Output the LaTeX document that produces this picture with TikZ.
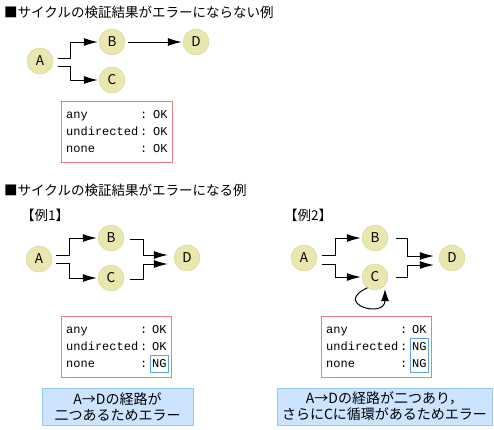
\documentclass[tikz,border=0pt]{standalone}
\usepackage{fontspec}
\setmainfont{Noto Sans CJK JP}
\newfontfamily\resfont{Liberation Mono}
\usepackage{tikz}
\usetikzlibrary{positioning,arrows.meta,fit}
\definecolor{vertexfill}{RGB}{233, 231, 173}
\definecolor{vertexline}{RGB}{212, 209, 150}
\definecolor{resline}{RGB}{240, 125, 125}
\definecolor{ngline}{RGB}{95, 160, 230}
\definecolor{notefill}{RGB}{204, 228, 255}
\definecolor{noteline}{RGB}{150, 200, 250}

\begin{document}
\begin{tikzpicture}[
    x=1pt, y=-1pt,
    font=\fontsize{13.5}{16}\selectfont,
    head/.style={anchor=west, inner sep=0pt},
    vertex/.style={
        circle, draw=vertexline, fill=vertexfill,
        minimum size=26pt, inner sep=0pt
    },
    arrow/.style={-{Latex[length=14pt,width=8pt]}, line width=1pt, shorten >=1pt},
    key/.style={
        anchor=west, inner sep=0pt, text height=9pt, text depth=3pt,
        font=\resfont\fontsize{12}{14}\selectfont
    },
    val/.style={key},
    resbox/.style={draw=resline, line width=1pt, inner xsep=5pt, inner ysep=7.5pt},
    ngbox/.style={draw=ngline, line width=1pt, inner xsep=1.5pt, inner ysep=2pt},
    note/.style={
        rectangle, draw=noteline, fill=notefill, line width=1pt,
        minimum height=37pt, inner sep=0pt, align=center,
        font=\fontsize{14}{16}\selectfont
    }
]
    \useasboundingbox (0,0) rectangle (494,429);

    % --- no error ---
    \node[head] (title1) at (4,12) {■サイクルの検証結果がエラーにならない例};
    \node[vertex] (A1) at (40,61) {A};
    \node[vertex] (B1) at (112,42) {B};
    \node[vertex] (C1) at (112,80) {C};
    \node[vertex] (D1) at (196,42) {D};
    \draw[arrow] ([shift={(5,-3)}]A1.east) -- ++(12,0) |- (B1);
    \draw[arrow] ([shift={(5,5)}]A1.east) -- ++(12,0) |- (C1);
    \draw[arrow, shorten <=3pt] (B1) -- (D1);

    \node[key] (k11) at (66,115) {\makebox[74pt][l]{any}:};
    \node[key] (k12) at (66,132) {\makebox[74pt][l]{undirected}:};
    \node[key] (k13) at (66,149) {\makebox[74pt][l]{none}:};
    \node[val] (v11) at (153,115) {OK};
    \node[val] (v12) at (153,132) {OK};
    \node[val] (v13) at (153,149) {OK};
    \node[resbox, fit=(k11)(k13)(v11)(v13)] (res1) {};

    % --- error ---
    \node[head] (title2) at (4,190) {■サイクルの検証結果がエラーになる例};

    % example 1
    \node[head] (ex1) at (21,215) {【例1】};
    \node[vertex] (A2) at (39,259) {A};
    \node[vertex] (B2) at (111,238) {B};
    \node[vertex] (C2) at (111,278) {C};
    \node[vertex] (D2) at (187,258) {D};
    \draw[arrow] ([shift={(4,-4)}]A2.east) -- ++(13,0) |- (B2);
    \draw[arrow] ([shift={(4,4)}]A2.east) -- ++(13,0) |- (C2);
    \draw[arrow] ([shift={(6,1)}]B2.east) -- ++(13,0) |- ([shift={(-5,-3)}]D2.west);
    \draw[arrow] ([shift={(6,1)}]C2.east) -- ++(13,0) |- ([shift={(-5,6)}]D2.west);

    \node[key] (k21) at (66,330) {\makebox[74pt][l]{any}:};
    \node[key] (k22) at (66,347) {\makebox[74pt][l]{undirected}:};
    \node[key] (k23) at (66,364) {\makebox[74pt][l]{none}:};
    \node[val] (v21) at (152,330) {OK};
    \node[val] (v22) at (152,347) {OK};
    \node[val] (v23) at (152,364) {NG};
    \node[resbox, fit=(k21)(k23)(v21)(v23)] (res2) {};
    \node[ngbox, fit=(v23)] (ng2) {};

    \node[note, minimum width=151pt] (note1) at (117.5,406.5) {A→Dの経路が\\二つあるためエラー};

    % example 2
    \node[head] (ex2) at (284,215) {【例2】};
    \node[vertex] (A3) at (304,258) {A};
    \node[vertex] (B3) at (375,238) {B};
    \node[vertex] (C3) at (375,277) {C};
    \node[vertex] (D3) at (452,258) {D};
    \draw[arrow] ([shift={(5,-3)}]A3.east) -- ++(13,0) |- (B3);
    \draw[arrow] ([shift={(5,6)}]A3.east) -- ++(13,0) |- (C3);
    \draw[arrow] ([shift={(8,0)}]B3.east) -- ++(11,0) |- ([shift={(-4,-2)}]D3.west);
    \draw[arrow] ([shift={(8,0)}]C3.east) -- ++(11,0) |- ([shift={(-4,7)}]D3.west);
    \draw[arrow, -{Latex[length=12pt,width=8pt]}, shorten >=0pt]
        (C3.-125) .. controls +(-35,16) and +(0,30) .. ([shift={(10,12)}]C3.center);

    \node[key] (k31) at (326,330) {\makebox[74pt][l]{any}:};
    \node[key] (k32) at (326,347) {\makebox[74pt][l]{undirected}:};
    \node[key] (k33) at (326,364) {\makebox[74pt][l]{none}:};
    \node[val] (v31) at (412,330) {OK};
    \node[val] (v32) at (412,347) {NG};
    \node[val] (v33) at (412,364) {NG};
    \node[resbox, fit=(k31)(k33)(v31)(v33)] (res3) {};
    \node[ngbox, fit=(v32)(v33)] (ng3) {};

    \node[note, minimum width=215pt] (note2) at (384.5,406.5) {A→Dの経路が二つあり，\\さらにCに循環があるためエラー};
\end{tikzpicture}
\end{document}
